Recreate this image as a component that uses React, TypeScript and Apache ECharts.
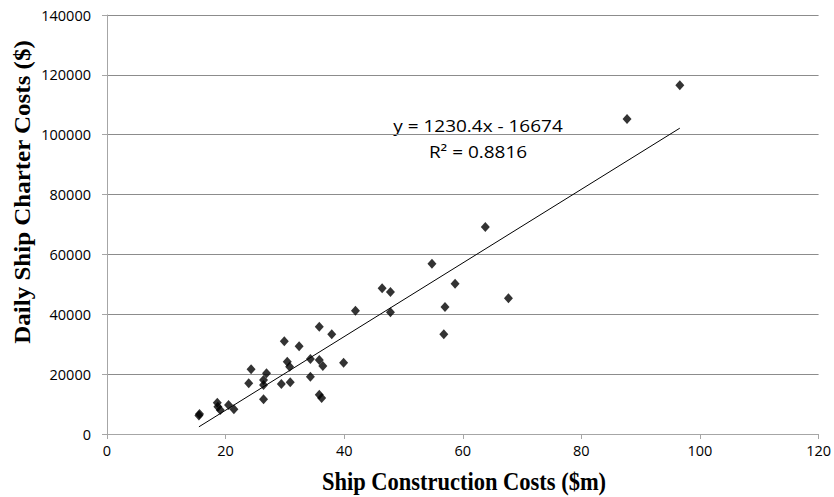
import React, { useEffect, useRef } from "react";
import * as echarts from "echarts";

const constructionCosts = [
  15.5, 15.6, 18.6, 18.7, 19.1, 20.5, 21.4, 23.9, 24.3, 26.4, 26.4, 26.4, 26.9,
  29.4, 29.9, 30.4, 30.8, 30.9, 32.4, 34.3, 34.3, 35.8, 35.8, 36.4, 35.8, 36.2,
  37.9, 39.9, 41.9, 46.4, 47.8, 47.8, 54.8, 56.8, 57.0, 58.7, 63.8, 67.7, 87.7,
  96.6,
];
const charterCosts = [
  6200, 6700, 10460, 9120, 8020, 9690, 8250, 16930, 21620, 18040, 16370, 11590,
  20270, 16700, 30970, 24160, 22490, 17270, 29300, 25060, 19150, 35850, 24720,
  22720, 13130, 12030, 33310, 23820, 41200, 48680, 47440, 40660, 56900, 33310,
  42430, 50220, 69160, 45340, 105250, 116500,
];
const trendSlope = 1230.4;
const trendIntercept = -16674;
const equationText = "y = 1230.4x - 16674";
const r2Text = "R² = 0.8816";
const xAxisTitle = "Ship Construction Costs ($m)";
const yAxisTitle = "Daily Ship Charter Costs ($)";

export default function App() {
  const ref = useRef<HTMLDivElement>(null);
  useEffect(() => {
    if (!ref.current) return;
    const chart = echarts.init(ref.current, null, { renderer: "svg" });
    const points = constructionCosts.map((x, i) => [x, charterCosts[i]]);
    const xMin = Math.min(...constructionCosts);
    const xMax = Math.max(...constructionCosts);
    const trend = [
      [xMin, trendSlope * xMin + trendIntercept],
      [xMax, trendSlope * xMax + trendIntercept],
    ];
    const labelFont = "Open Sans, Liberation Sans, sans-serif";
    const titleStyle = {
      fontFamily: "Liberation Serif, serif",
      fontWeight: "bold",
      fontSize: 25,
      fill: "#000",
      align: "center",
      verticalAlign: "middle",
    };
    chart.setOption({
      animation: false,
      backgroundColor: "#fff",
      grid: { left: 107, right: 12, top: 15, bottom: 63 },
      xAxis: {
        type: "value",
        min: 0,
        max: 120,
        interval: 20,
        axisLine: { show: true, lineStyle: { color: "#a6a6a6", width: 1 } },
        axisTick: { show: true, length: 5, lineStyle: { color: "#a6a6a6" } },
        axisLabel: { fontFamily: labelFont, fontSize: 14.5, color: "#000", margin: 9 },
        splitLine: { show: false },
      },
      yAxis: {
        type: "value",
        min: 0,
        max: 140000,
        interval: 20000,
        axisLine: { show: true, lineStyle: { color: "#a6a6a6", width: 1 } },
        axisTick: { show: true, length: 5, lineStyle: { color: "#a6a6a6" } },
        axisLabel: {
          fontFamily: labelFont,
          fontSize: 14.5,
          color: "#000",
          margin: 16,
          formatter: (v: number) => String(v),
        },
        splitLine: { show: true, lineStyle: { color: "#8c8c8c", width: 1 } },
      },
      series: [
        {
          type: "scatter",
          data: points,
          symbol: "diamond",
          symbolSize: [9, 10],
          itemStyle: { color: "#000" },
        },
        {
          type: "line",
          data: trend,
          symbol: "none",
          lineStyle: { color: "#000", width: 1 },
          silent: true,
        },
      ],
      graphic: [
        {
          type: "text",
          x: 478,
          y: 126,
          scaleX: 1.15,
          style: {
            text: equationText,
            fontFamily: labelFont,
            fontSize: 16.5,
            fill: "#000",
            align: "center",
            verticalAlign: "middle",
          },
        },
        {
          type: "text",
          x: 478,
          y: 152,
          scaleX: 1.15,
          style: {
            text: r2Text,
            fontFamily: labelFont,
            fontSize: 16.5,
            fill: "#000",
            align: "center",
            verticalAlign: "middle",
          },
        },
        {
          type: "text",
          x: 464,
          y: 482,
          scaleX: 0.9,
          style: { ...titleStyle, text: xAxisTitle },
        },
        {
          type: "text",
          x: 22,
          y: 192,
          rotation: Math.PI / 2,
          scaleY: 0.9,
          style: { ...titleStyle, text: yAxisTitle },
        },
      ],
    });
    return () => chart.dispose();
  }, []);
  return <div ref={ref} style={{ width: 834, height: 497, position: "absolute", left: 0, top: 0 }} />;
}
